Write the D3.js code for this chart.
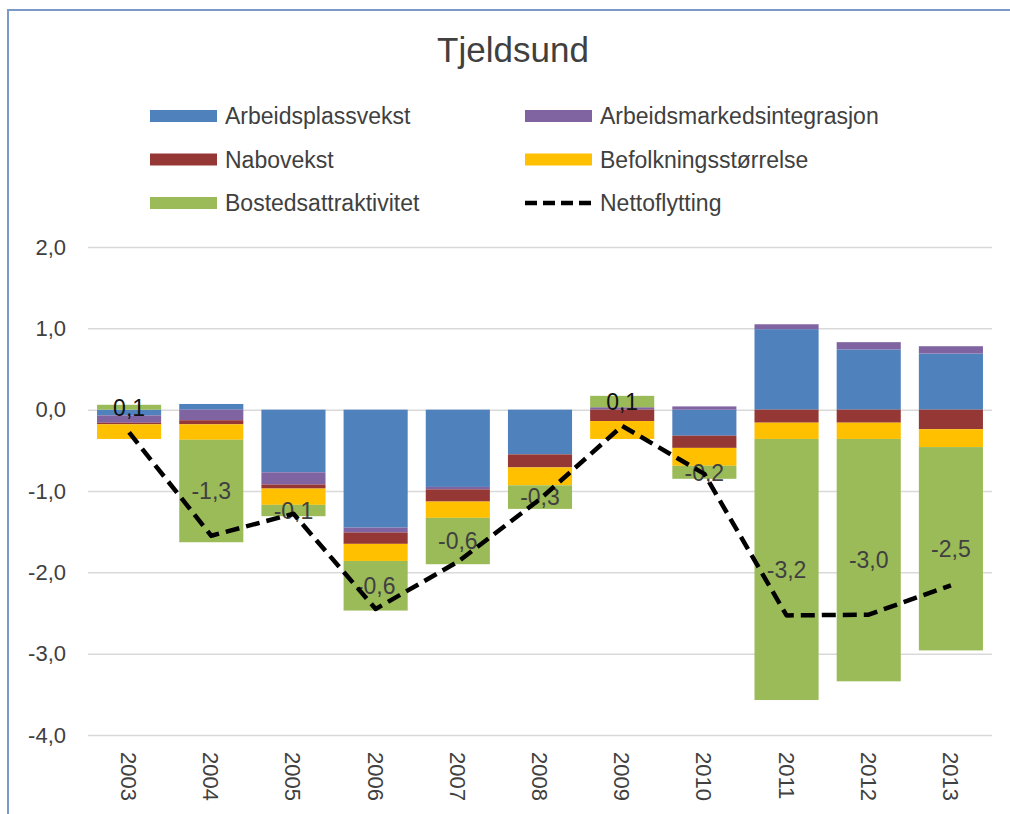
<!DOCTYPE html>
<html>
<head>
<meta charset="utf-8">
<script src="https://cdn.jsdelivr.net/npm/d3@7"></script>
<style>
  body { margin: 0; background: #fff; }
  svg { display: block; font-family: "Liberation Sans", Arial, sans-serif; }
</style>
</head>
<body>
<svg id="chart" width="1010" height="814"></svg>
<script>
// data
const years = ['2003','2004','2005','2006','2007','2008','2009','2010','2011','2012','2013']
const arbeidsplassvekst = [-0.07, 0.07, -0.77, -1.45, -0.95, -0.55, 0.00, -0.32, 0.99, 0.74, 0.69]
const arbeidsmarkedsintegrasjon = [-0.09, -0.13, -0.15, -0.06, -0.03, 0.00, 0.03, 0.04, 0.06, 0.09, 0.09]
const nabovekst = [-0.02, -0.05, -0.05, -0.14, -0.15, -0.16, -0.14, -0.15, -0.16, -0.16, -0.24]
const befolkningsstorrelse = [-0.18, -0.19, -0.20, -0.21, -0.20, -0.22, -0.22, -0.22, -0.20, -0.20, -0.22]
const bostedsattraktivitet = [0.06, -1.26, -0.14, -0.61, -0.57, -0.29, 0.14, -0.16, -3.21, -2.98, -2.50]
const nettoflytting = [-0.28, -1.55, -1.28, -2.45, -1.87, -1.10, -0.20, -0.79, -2.53, -2.52, -2.16]
const yTicks = [2, 1, 0, -1, -2, -3, -4]

const seriesNames = ['Arbeidsplassvekst','Arbeidsmarkedsintegrasjon','Nabovekst','Befolkningsstørrelse','Bostedsattraktivitet']
const seriesValues = [arbeidsplassvekst, arbeidsmarkedsintegrasjon, nabovekst, befolkningsstorrelse, bostedsattraktivitet]
const colors = ['#4F81BD','#8064A2','#953735','#FFC000','#9BBB59']

const rows = years.map((y, i) => {
  let r = {year: y}
  seriesNames.forEach((s, k) => r[s] = seriesValues[k][i])
  return r
})

const svg = d3.select('#chart')
const fmt = v => v.toFixed(1).replace('.', ',')

// frame
svg.append('rect').attr('x', 8).attr('y', 10).attr('width', 1030).attr('height', 840)
  .attr('fill', 'none').attr('stroke', '#7a98c8').attr('stroke-width', 2)

const x = d3.scaleBand().domain(years).range([88, 992]).paddingInner(0.22).paddingOuter(0.11)
const y = d3.scaleLinear().domain([-4, 2]).range([735, 247])

// grid + y axis
const yAxis = svg.append('g').attr('transform', 'translate(88,0)')
  .call(d3.axisLeft(y).tickValues(yTicks).tickSize(-904).tickFormat(fmt).tickPadding(22))
yAxis.select('.domain').remove()
yAxis.selectAll('line').attr('stroke', '#d9d9d9').attr('stroke-width', 1.5)
yAxis.selectAll('text').attr('fill', '#404040').style('font-size', '22px')

// stacked bars
const stack = d3.stack().keys(seriesNames).offset(d3.stackOffsetDiverging)
const layers = stack(rows)

svg.append('g').selectAll('g').data(layers).join('g')
  .attr('fill', (d, i) => colors[i])
  .selectAll('rect').data(d => d).join('rect')
    .attr('x', d => x(d.data.year))
    .attr('width', x.bandwidth())
    .attr('y', d => y(Math.max(d[0], d[1])))
    .attr('height', d => Math.abs(y(d[0]) - y(d[1])))

// labels of Bostedsattraktivitet, centred in its segment
const green = layers[4]
svg.append('g').selectAll('text').data(green).join('text')
  .attr('x', d => x(d.data.year) + x.bandwidth() / 2)
  .attr('y', d => y((d[0] + d[1]) / 2))
  .attr('dy', '0.36em')
  .attr('text-anchor', 'middle')
  .attr('fill', d => d.data[seriesNames[4]] > 0 ? '#111' : '#404040')
  .style('font-size', '23px')
  .text(d => fmt(d.data[seriesNames[4]]))

// Nettoflytting line
const line = d3.line()
  .x((d, i) => x(years[i]) + x.bandwidth() / 2)
  .y(d => y(d))
svg.append('path').datum(nettoflytting)
  .attr('d', line)
  .attr('fill', 'none').attr('stroke', '#000')
  .attr('stroke-width', 4.5).attr('stroke-dasharray', '14,7')
  .attr('stroke-linejoin', 'round')

// x axis labels
svg.append('g').selectAll('text').data(years).join('text')
  .attr('transform', d => `translate(${x(d) + x.bandwidth() / 2 - 8},752) rotate(90)`)
  .attr('fill', '#404040')
  .style('font-size', '22px')
  .text(d => d)

// title
svg.append('text').attr('x', 513).attr('y', 62).attr('text-anchor', 'middle')
  .attr('fill', '#404040').style('font-size', '35px').text('Tjeldsund')

// legend
const legendItems = [
  {name: seriesNames[0], color: colors[0], col: 0, row: 0},
  {name: seriesNames[1], color: colors[1], col: 1, row: 0},
  {name: seriesNames[2], color: colors[2], col: 0, row: 1},
  {name: seriesNames[3], color: colors[3], col: 1, row: 1},
  {name: seriesNames[4], color: colors[4], col: 0, row: 2},
  {name: 'Nettoflytting', color: null, col: 1, row: 2}
]
const lg = svg.append('g').selectAll('g').data(legendItems).join('g')
  .attr('transform', d => `translate(${150 + d.col * 375},${116 + d.row * 43.5})`)
lg.filter(d => d.color).append('rect')
  .attr('x', 0).attr('y', -6).attr('width', 67).attr('height', 12)
  .attr('fill', d => d.color)
lg.filter(d => !d.color).append('line')
  .attr('x1', 0).attr('x2', 67).attr('y1', 0).attr('y2', 0)
  .attr('stroke', '#000').attr('stroke-width', 4.5).attr('stroke-dasharray', '12,6')
lg.append('text').attr('x', 75).attr('y', 8)
  .attr('fill', '#404040').style('font-size', '23px')
  .text(d => d.name)
</script>
</body>
</html>
